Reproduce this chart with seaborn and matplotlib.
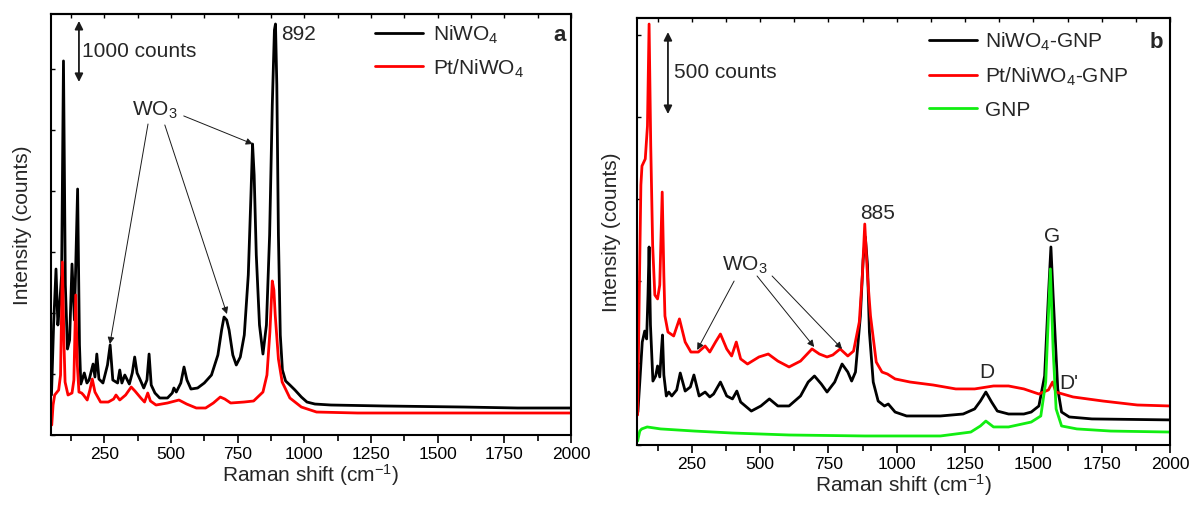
import numpy as np, pandas as pd
import matplotlib; matplotlib.use("Agg")
import matplotlib.pyplot as plt
from matplotlib.ticker import MultipleLocator, NullFormatter
import seaborn as sns

sns.set_theme(style="ticks")
plt.rcParams.update({
    "font.family": ["Liberation Sans", "DejaVu Sans"],
    "mathtext.fontset": "custom", "mathtext.rm": "Liberation Sans",
    "mathtext.it": "Liberation Sans:italic", "mathtext.bf": "Liberation Sans:bold",
    "axes.edgecolor": "black", "axes.linewidth": 1.5,
    "xtick.color": "black", "ytick.color": "black",
})

# ---------------- panel a: NiWO4 / Pt-NiWO4 (counts) ----------------
a_shift_niwo4 = [52, 60, 69, 76, 83, 90, 97, 104, 112, 120, 129, 138, 150, 157, 162, 175, 185, 193,
                 208, 215, 222, 230, 245, 262, 272, 282, 300, 308, 316, 327, 344, 355, 364, 373, 385,
                 398, 410, 418, 426, 440, 458, 487, 505, 511, 520, 537, 549, 560, 575, 600, 625, 652,
                 676, 690, 699, 709, 718, 732, 745, 760, 775, 790, 800, 806, 812, 820, 832, 845, 858,
                 870, 880, 888, 892, 897, 903, 910, 918, 930, 946, 965, 989, 1010, 1040, 1100, 1300,
                 1600, 1800, 2000]
a_int_niwo4 = [656, 1804, 2722, 1804, 2165, 2624, 6134, 2460, 1410, 1558, 2804, 1886, 4034, 1476, 836,
               1017, 853, 902, 1164, 951, 1328, 918, 853, 1148, 1476, 902, 853, 1066, 853, 984, 836,
               1017, 1279, 1017, 902, 771, 902, 1328, 820, 689, 607, 607, 689, 771, 705, 853, 1115,
               902, 754, 771, 853, 984, 1312, 1722, 1935, 1886, 1722, 1312, 1148, 1279, 1640, 2624,
               3936, 4772, 4264, 2952, 1804, 1328, 1804, 3280, 5412, 6642, 6740, 5740, 3280, 1640,
               1066, 886, 820, 738, 623, 541, 508, 492, 476, 459, 443, 443]

a_shift_pt = [53, 58, 64, 79, 86, 93, 99, 103, 114, 129, 136, 143, 149, 155, 165, 172, 186, 196, 205,
              215, 236, 265, 285, 294, 308, 330, 351, 365, 387, 401, 413, 423, 444, 487, 530, 559, 595,
              630, 659, 685, 702, 724, 774, 810, 845, 860, 871, 880, 886, 891, 903, 917, 946, 989,
              1046, 1200, 1600, 2000]
a_int_pt = [164, 492, 656, 738, 984, 2837, 1476, 869, 656, 689, 902, 2296, 1148, 705, 689, 656, 574,
            738, 918, 705, 541, 541, 590, 656, 574, 656, 787, 722, 607, 541, 689, 558, 492, 525, 574,
            508, 443, 443, 525, 623, 590, 525, 541, 558, 705, 984, 1689, 2526, 2378, 1968, 1246, 869,
            607, 459, 377, 361, 361, 361]

# ---------------- panel b: GNP composites ----------------
b_shift_niwo4 = [53, 60, 69, 78, 85, 90, 94, 99, 108, 118, 125, 133, 138, 143, 148, 157, 166, 177, 195,
                 208, 226, 245, 258, 277, 299, 316, 330, 355, 378, 399, 415, 429, 468, 503, 534, 565,
                 606, 648, 676, 699, 724, 745, 773, 800, 821, 835, 849, 867, 877, 885, 893, 900, 914,
                 932, 955, 969, 994, 1036, 1160, 1243, 1285, 1306, 1326, 1347, 1368, 1409, 1465, 1492,
                 1520, 1541, 1555, 1564, 1572, 1589, 1603, 1631, 1714, 2000]
b_int_niwo4 = [201, 384, 628, 695, 647, 915, 1208, 732, 390, 421, 482, 415, 549, 671, 427, 299, 323,
               299, 336, 439, 329, 354, 427, 299, 323, 293, 311, 384, 299, 281, 329, 262, 207, 238,
               281, 238, 238, 299, 384, 421, 372, 323, 384, 494, 445, 390, 445, 787, 1129, 1269, 1098,
               689, 384, 268, 238, 250, 201, 177, 177, 189, 220, 268, 323, 262, 207, 189, 189, 201,
               238, 421, 915, 1208, 915, 342, 201, 171, 159, 153]

b_shift_pt = [52, 58, 64, 68, 80, 88, 94, 100, 107, 115, 125, 133, 142, 148, 152, 163, 184, 205, 226,
              247, 274, 299, 316, 337, 355, 378, 396, 413, 429, 454, 496, 530, 565, 606, 648, 690, 717,
              745, 766, 793, 821, 842, 863, 874, 883, 893, 904, 925, 946, 966, 994, 1049, 1133, 1216,
              1285, 1354, 1409, 1465, 1520, 1555, 1570, 1582, 1645, 1755, 1880, 2000]
b_int_pt = [183, 915, 1586, 1702, 1745, 1946, 2568, 1830, 1220, 915, 891, 976, 1543, 1037, 787, 689,
            665, 769, 628, 567, 567, 604, 567, 628, 677, 586, 543, 628, 525, 494, 537, 555, 512, 476,
            512, 586, 555, 537, 549, 586, 543, 573, 750, 1031, 1348, 1031, 787, 506, 445, 433, 403,
            384, 366, 342, 342, 360, 360, 342, 311, 336, 384, 323, 293, 268, 244, 238]

b_shift_gnp = [52, 60, 67, 87, 136, 260, 399, 606, 883, 1160, 1271, 1306, 1326, 1354, 1409, 1492, 1527,
               1545, 1555, 1562, 1572, 1583, 1603, 1659, 1783, 2000]
b_int_gnp = [24, 85, 98, 110, 98, 85, 73, 61, 55, 55, 79, 116, 146, 110, 110, 140, 177, 384, 793, 1074,
             586, 220, 116, 98, 85, 79]

NAMES_A = ["NiWO$_\\mathregular{4}$", "Pt/NiWO$_\\mathregular{4}$"]
NAMES_B = ["NiWO$_\\mathregular{4}$-GNP", "Pt/NiWO$_\\mathregular{4}$-GNP", "GNP"]
BLACK, RED, GREEN = "#000000", "#ff0000", "#11ee11"
FS = 15

fig = plt.figure(figsize=(11.93, 5.06), dpi=100)
axA = fig.add_axes([0.0427, 0.1383, 0.4359, 0.8321])
axB = fig.add_axes([0.5340, 0.1186, 0.4468, 0.8439])

def curve(ax, xs, ys, col, name):
    d = pd.DataFrame({"shift": xs, "I": ys})
    sns.lineplot(data=d, x="shift", y="I", ax=ax, color=col, lw=2.0, estimator=None,
                 sort=False, label=name)

curve(axA, a_shift_niwo4, a_int_niwo4, BLACK, NAMES_A[0])
curve(axA, a_shift_pt, a_int_pt, RED, NAMES_A[1])
curve(axB, b_shift_niwo4, b_int_niwo4, BLACK, NAMES_B[0])
curve(axB, b_shift_pt, b_int_pt, RED, NAMES_B[1])
curve(axB, b_shift_gnp, b_int_gnp, GREEN, NAMES_B[2])

for ax, ytop, ystep, ypad in [(axA, 6904, 1000, 10), (axB, 2605, 500, 8)]:
    ax.set_xlim(50, 2000); ax.set_ylim(0, ytop)
    ax.xaxis.set_major_locator(MultipleLocator(250)); ax.xaxis.set_minor_locator(MultipleLocator(125))
    ax.yaxis.set_major_locator(MultipleLocator(ystep)); ax.yaxis.set_major_formatter(NullFormatter())
    ax.tick_params(axis="x", which="major", direction="out", length=6, width=1.2, labelsize=12.5, pad=2)
    ax.tick_params(axis="x", which="minor", direction="out", length=4, width=1.2)
    ax.tick_params(axis="y", direction="in", length=3, width=1.0)
    top = ax.secondary_xaxis("top")
    top.xaxis.set_major_locator(MultipleLocator(250)); top.xaxis.set_minor_locator(MultipleLocator(125))
    top.tick_params(which="both", direction="in", length=3, width=1.0, labeltop=False)
    ax.set_xlabel("Raman shift (cm$^{-1}$)", fontsize=15, labelpad=0)
    ax.set_ylabel("Intensity (counts)", fontsize=15, labelpad=ypad)
    for s in ax.spines.values():
        s.set_visible(True)

# legends
axA.legend(loc="upper left", bbox_to_anchor=(0.623, 0.979), frameon=False, fontsize=FS,
           handlelength=2.3, handletextpad=0.5, labelspacing=0.55, borderpad=0, borderaxespad=0)
axB.legend(loc="upper left", bbox_to_anchor=(0.548, 0.972), frameon=False, fontsize=FS,
           handlelength=2.3, handletextpad=0.4, labelspacing=0.62, borderpad=0, borderaxespad=0)

dbl = dict(arrowstyle="<|-|>", color="k", lw=1.3, mutation_scale=12, shrinkA=0, shrinkB=0)
thin = dict(arrowstyle="-|>", color="k", lw=0.7, mutation_scale=10, shrinkA=0, shrinkB=0)

# panel a annotations
axA.annotate("", xy=(155, 6790), xytext=(155, 5789), arrowprops=dbl)
axA.text(166, 6298, "1000 counts", fontsize=FS, va="center", ha="left")
axA.text(912, 6576, "892", fontsize=FS, va="center", ha="left")
axA.text(440, 5346, "WO$_\\mathregular{3}$", fontsize=FS, va="center", ha="center")
for (x0, y0), (x1, y1) in [((414, 5100), (271, 1492)), ((477, 5084), (710, 1984)),
                           ((548, 5232), (807, 4772))]:
    axA.annotate("", xy=(x1, y1), xytext=(x0, y0), arrowprops=thin)
axA.text(0.99, 0.952, "a", transform=axA.transAxes, fontsize=16, fontweight="bold",
         ha="right", va="center")

# panel b annotations
axB.annotate("", xy=(163, 2519), xytext=(163, 2019), arrowprops=dbl)
axB.text(185, 2281, "500 counts", fontsize=FS, va="center", ha="left")
axB.text(928, 1421, "885", fontsize=FS, va="center", ha="center")
axB.text(1568, 1275, "G", fontsize=FS, va="center", ha="center")
axB.text(1331, 451, "D", fontsize=FS, va="center", ha="center")
axB.text(1631, 384, "D'", fontsize=FS, va="center", ha="center")
axB.text(445, 1104, "WO$_\\mathregular{3}$", fontsize=FS, va="center", ha="center")
for (x0, y0), (x1, y1) in [((405, 1000), (270, 580)), ((489, 1031), (698, 598)),
                           ((544, 1031), (800, 586))]:
    axB.annotate("", xy=(x1, y1), xytext=(x0, y0), arrowprops=thin)
axB.text(0.987, 0.946, "b", transform=axB.transAxes, fontsize=16, fontweight="bold",
         ha="right", va="center")

fig.savefig("out.png", dpi=100)
